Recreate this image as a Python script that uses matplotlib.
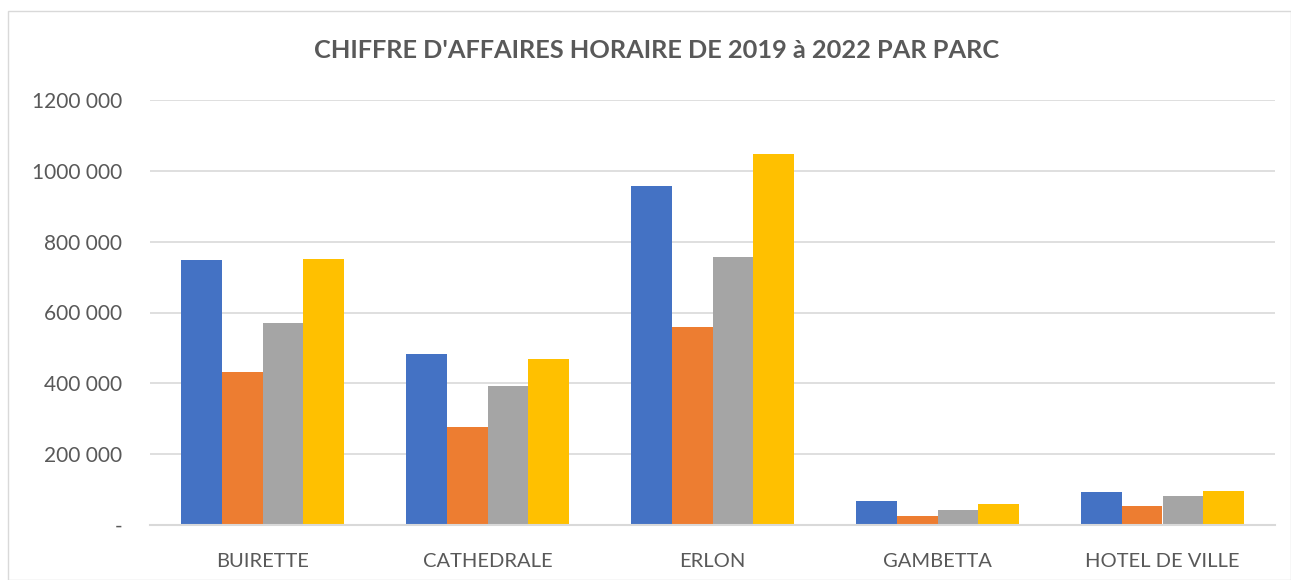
import numpy as np
import matplotlib.pyplot as plt
from matplotlib.patches import Rectangle

parcs = ["BUIRETTE", "CATHEDRALE", "ERLON", "GAMBETTA", "HOTEL DE VILLE"]
annees = ["2019", "2020", "2021", "2022"]
ca_2019 = [749000, 482000, 958000, 68000, 94000]
ca_2020 = [431000, 276000, 558000, 26000, 54000]
ca_2021 = [569000, 392000, 758000, 43000, 82000]
ca_2022 = [752000, 468000, 1048000, 58000, 97000]
couleurs = ["#4472c4", "#ed7d31", "#a5a5a5", "#ffc000"]
yticks = [0, 200000, 400000, 600000, 800000, 1000000, 1200000]
ylabels = ["-", "200 000", "400 000", "600 000", "800 000", "1000 000", "1200 000"]


def main():
    plt.rcParams['font.family'] = ['Lato', 'DejaVu Sans']
    fig = plt.figure(figsize=(12.91, 5.8), dpi=100)
    ax = fig.add_axes([150 / 1291, 1 - 525 / 580, 1125 / 1291, 425 / 580])

    series = [ca_2019, ca_2020, ca_2021, ca_2022]
    x = np.arange(len(parcs))
    w = 1 / 5.5
    for i, (vals, c) in enumerate(zip(series, couleurs)):
        ax.bar(x + (i - 1.5) * w, vals, w, color=c, label=annees[i], zorder=3)

    ax.set_xlim(-0.5, len(parcs) - 0.5)
    ax.set_ylim(0, 1200000)
    ax.set_yticks(yticks)
    ax.set_yticklabels(ylabels)
    ax.set_xticks(x)
    ax.set_xticklabels(parcs)
    ax.tick_params(length=0, labelsize=14.5, colors="#595959")
    ax.tick_params(axis="y", pad=20, labelsize=15)
    ax.tick_params(axis="x", pad=20)
    ax.grid(axis="y", color="#d9d9d9", linewidth=1.2, zorder=0)
    for s in ["top", "right", "left"]:
        ax.spines[s].set_visible(False)
    ax.spines["bottom"].set_color("#d9d9d9")
    ax.spines["bottom"].set_linewidth(1.5)
    ax.spines["bottom"].set_zorder(4)

    fig.text(657 / 1291, 1 - 50 / 580, "CHIFFRE D'AFFAIRES HORAIRE DE 2019 à 2022 PAR PARC",
             ha="center", va="center", fontsize=18.3, fontweight="bold", color="#595959")

    fig.patches.append(Rectangle((8 / 1291, 0), 1283 / 1291, 1 - 11 / 580,
                                 transform=fig.transFigure, fill=False,
                                 edgecolor="#d9d9d9", linewidth=1))

    fig.savefig("out.png", dpi=100)


if __name__ == "__main__":
    main()
